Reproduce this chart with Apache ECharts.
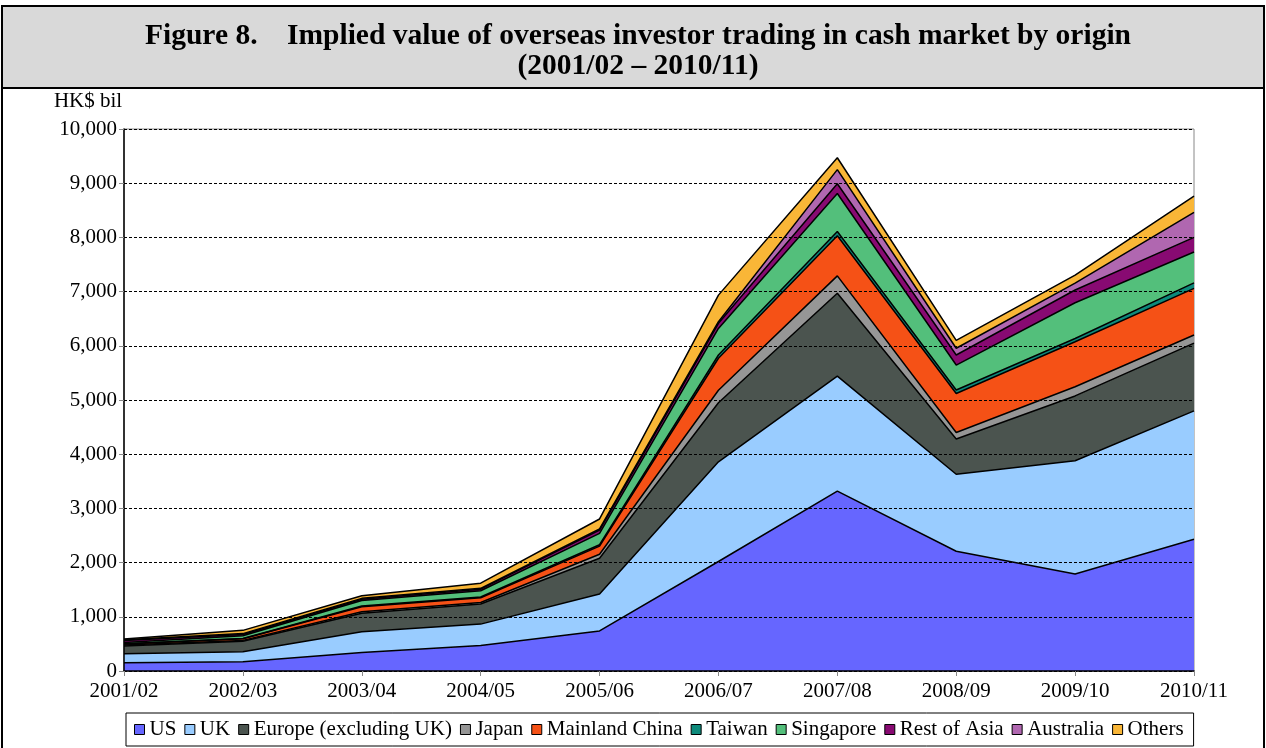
<!DOCTYPE html>
<html>
<head>
<meta charset="utf-8">
<script src="https://cdn.jsdelivr.net/npm/echarts@6/dist/echarts.min.js"></script>
<style>
html,body{margin:0;padding:0;background:#fff;}
#chart{width:1266px;height:748px;}
</style>
</head>
<body>
<div id="chart"></div>
<script>
const categories = ['2001/02','2002/03','2003/04','2004/05','2005/06','2006/07','2007/08','2008/09','2009/10','2010/11'];
const yTicks = [0,1000,2000,3000,4000,5000,6000,7000,8000,9000,10000];
const us        = [150, 170, 340, 470, 740, 2020, 3320, 2210, 1790, 2430];
const uk        = [170, 185, 385, 395, 680, 1840, 2120, 1420, 2090, 2370];
const europe    = [140, 195, 340, 370, 660, 1090, 1530, 650, 1195, 1250];
const japan     = [20, 15, 30, 30, 75, 230, 320, 120, 170, 150];
const china     = [20, 30, 90, 85, 150, 590, 740, 720, 830, 860];
const taiwan    = [5, 5, 15, 15, 25, 60, 80, 65, 60, 100];
const singapore = [20, 50, 100, 115, 210, 490, 700, 460, 660, 570];
const restAsia  = [40, 25, 25, 30, 60, 95, 180, 185, 235, 270];
const australia = [10, 15, 15, 15, 20, 30, 260, 125, 125, 460];
const others    = [15, 60, 50, 95, 185, 490, 220, 145, 150, 300];

const seriesDefs = [
  ['US', us, '#6666ff'],
  ['UK', uk, '#99ccff'],
  ['Europe (excluding UK)', europe, '#4b544f'],
  ['Japan', japan, '#969696'],
  ['Mainland China', china, '#f55116'],
  ['Taiwan', taiwan, '#0d8a7b'],
  ['Singapore', singapore, '#53bf7b'],
  ['Rest of Asia', restAsia, '#880a72'],
  ['Australia', australia, '#b067b0'],
  ['Others', others, '#f9b637']
];

const serif = '"Liberation Serif","Times New Roman",serif';
const chart = echarts.init(document.getElementById('chart'), null, {renderer:'canvas'});

const option = {
  animation: false,
  backgroundColor: '#fff',
  graphic: [
    {type:'rect', shape:{x:2, y:6, width:1262, height:82}, style:{fill:'#d9d9d9', stroke:'#000', lineWidth:2}, z:-10},
    {type:'line', shape:{x1:2, y1:88, x2:2, y2:748}, style:{stroke:'#000', lineWidth:2}, z:-10},
    {type:'line', shape:{x1:1264, y1:88, x2:1264, y2:748}, style:{stroke:'#000', lineWidth:2}, z:-10}
  ],
  title: {
    text: 'Figure 8.    Implied value of overseas investor trading in cash market by origin\n(2001/02 – 2010/11)',
    left: 633,
    top: 16,
    textAlign: 'center',
    textStyle: {fontFamily: serif, fontWeight: 'bold', fontSize: 29.5, lineHeight: 30, color: '#000', align: 'center'}
  },
  legend: {
    data: seriesDefs.map(d => d[0]),
    left: 126,
    top: 713,
    icon: 'rect',
    itemWidth: 10,
    itemHeight: 10,
    itemGap: 8,
    padding: [6, 10, 6, 8],
    borderColor: '#000',
    borderWidth: 1,
    itemStyle: {borderColor: '#000', borderWidth: 1},
    textStyle: {fontFamily: serif, fontSize: 21, color: '#000'}
  },
  grid: {left: 124, right: 72, top: 129, bottom: 77, show: true, borderColor: '#888', borderWidth: 1, backgroundColor: 'transparent'},
  xAxis: {
    type: 'category',
    data: categories,
    boundaryGap: false,
    axisLine: {lineStyle: {color: '#000', width: 1.5}},
    axisTick: {show: true, length: 5, lineStyle: {color: '#888'}},
    axisLabel: {fontFamily: serif, fontSize: 21, color: '#000', margin: 10},
    z: 10
  },
  yAxis: {
    type: 'value',
    min: yTicks[0],
    max: yTicks[yTicks.length-1],
    interval: yTicks[1] - yTicks[0],
    name: 'HK$ bil',
    nameLocation: 'end',
    nameGap: 17,
    nameTextStyle: {fontFamily: serif, fontSize: 21, color: '#000', align: 'center', padding: [0, 72, 0, 0]},
    axisLine: {show: true, lineStyle: {color: '#000', width: 1.5}},
    axisTick: {show: true, length: 5, lineStyle: {color: '#888'}},
    axisLabel: {fontFamily: serif, fontSize: 21, color: '#000', margin: 7,
      formatter: v => v.toLocaleString('en-US')},
    splitLine: {show: true, lineStyle: {color: '#000', type: [3, 2], width: 1}},
    z: 10
  },
  series: seriesDefs.map(d => ({
    name: d[0],
    type: 'line',
    stack: 'total',
    data: d[1],
    symbol: 'none',
    color: d[2],
    itemStyle: {color: d[2]},
    lineStyle: {color: '#000', width: 1.5},
    areaStyle: {color: d[2], opacity: 1}
  }))
};
chart.setOption(option);
</script>
</body>
</html>
